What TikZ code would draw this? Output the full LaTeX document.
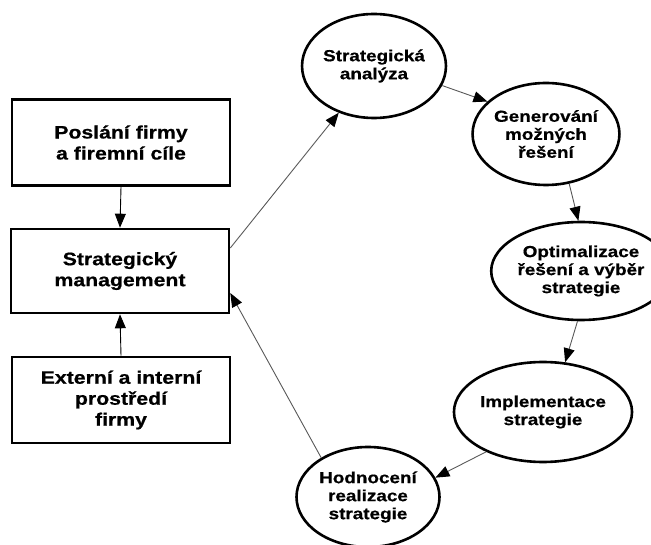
\documentclass[tikz,border=0pt]{standalone}
\usepackage{fontspec}
\newfontfamily\lblfont{Liberation Sans Bold}[FakeStretch=1.18,FakeBold=0.6]
\usetikzlibrary{shapes.geometric,arrows.meta}
\begin{document}
\begin{tikzpicture}[x=1pt,y=-1pt,
  boxnode/.style={draw=black,line width=2.6pt,rectangle,minimum width=218pt,
    minimum height=86pt,inner sep=0pt,align=center,
    font=\lblfont\fontsize{18}{21}\selectfont},
  stagenode/.style={draw=black,line width=2.6pt,ellipse,inner sep=0pt,
    align=center,font=\lblfont\fontsize{16}{18}\selectfont},
  flow/.style={draw=black!65,line width=0.9pt,
    -{Triangle[length=14pt,width=11pt,color=black]}},
  feed/.style={draw=black,line width=0.9pt,
    -{Triangle[length=14pt,width=11pt,color=black]}}]
\useasboundingbox (0,0) rectangle (651,545);

% left column: mission, management, environment
\node[boxnode] (mise) at (121,142.5) {Poslání firmy\\a firemní cíle};
\node[boxnode,minimum height=84pt] (mgmt) at (120,271) {Strategický\\management};
\node[boxnode] (okoli) at (121,400) {Externí a interní\\prostředí\\firmy};

% cycle of strategy stages
\node[stagenode,minimum width=142pt,minimum height=104pt] (anal) at (374,66) {Strategická\\analýza};
\node[stagenode,minimum width=143pt,minimum height=102pt] (gen) at (546,134) {Generování\\možných\\řešení};
\node[stagenode,minimum width=137pt,minimum height=98pt] (opt) at (581,271) {Optimalizace\\řešení a výběr\\strategie};
\node[stagenode,minimum width=140pt,minimum height=100pt] (impl) at (543,412) {Implementace\\strategie};
\node[stagenode,minimum width=143pt,minimum height=100pt] (hodn) at (368,497) {Hodnocení\\realizace\\strategie};

% inputs to management
\draw[feed] (mise.south) -- (mgmt.north);
\draw[feed] (okoli.north) -- (mgmt.south);

% the cycle (yshift is in page units, so positive means up)
\draw[flow] ([yshift=23pt]mgmt.east) -- (anal.233.7);
\draw[flow] (anal.-16.9) -- (gen.151.5);
\draw[flow] (gen.-65.8) -- (opt.93.4);
\draw[flow] (opt.266.6) -- (impl.66.3);
\draw[flow] (impl.215.2) -- (hodn.16.5);
\draw[flow] (hodn.140.2) -- ([yshift=-22pt]mgmt.east);
\end{tikzpicture}
\end{document}
